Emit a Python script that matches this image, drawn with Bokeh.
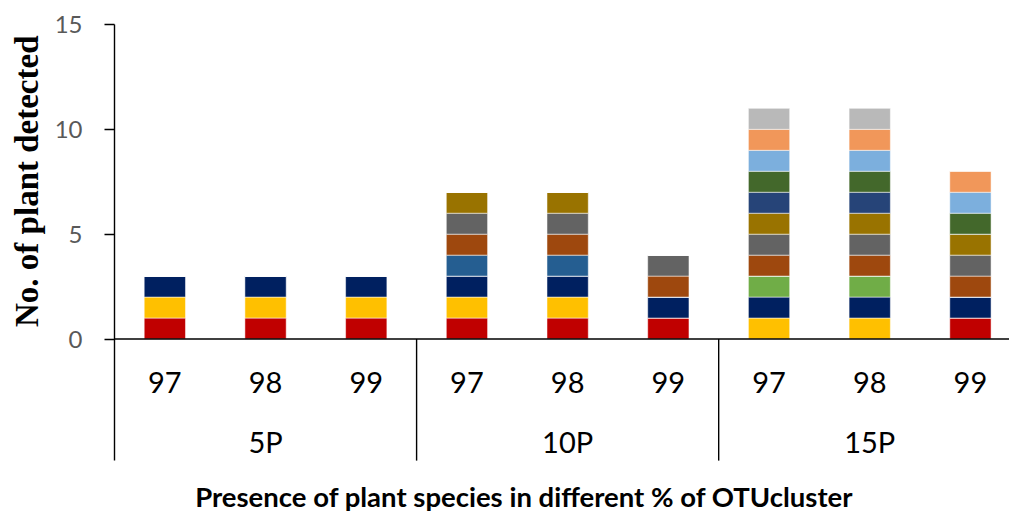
from bokeh.plotting import figure
from bokeh.models import Range1d, Title, ColumnDataSource
from bokeh.core.properties import value
from bokeh.embed import file_html
from bokeh.resources import INLINE

# Two-level categories: plant mix and OTU clustering threshold (%)
groups = ["5P", "10P", "15P"]
clusters = ["97", "98", "99"]

# Presence (1) / absence (0) of each plant species, per bar (5P 97..99, 10P 97..99, 15P 97..99)
sp01 = [1, 1, 1, 1, 1, 1, 0, 0, 1]
sp02 = [1, 1, 1, 1, 1, 0, 1, 1, 0]
sp03 = [1, 1, 1, 1, 1, 1, 1, 1, 1]
sp04 = [0, 0, 0, 0, 0, 0, 1, 1, 0]
sp05 = [0, 0, 0, 1, 1, 0, 0, 0, 0]
sp06 = [0, 0, 0, 1, 1, 1, 1, 1, 1]
sp07 = [0, 0, 0, 1, 1, 1, 1, 1, 1]
sp08 = [0, 0, 0, 1, 1, 0, 1, 1, 1]
sp09 = [0, 0, 0, 0, 0, 0, 1, 1, 0]
sp10 = [0, 0, 0, 0, 0, 0, 1, 1, 1]
sp11 = [0, 0, 0, 0, 0, 0, 1, 1, 1]
sp12 = [0, 0, 0, 0, 0, 0, 1, 1, 1]
sp13 = [0, 0, 0, 0, 0, 0, 1, 1, 0]

species = ["sp01", "sp02", "sp03", "sp04", "sp05", "sp06", "sp07",
           "sp08", "sp09", "sp10", "sp11", "sp12", "sp13"]
species_values = [sp01, sp02, sp03, sp04, sp05, sp06, sp07,
                  sp08, sp09, sp10, sp11, sp12, sp13]
colors = ["#C00000", "#FFC000", "#002060", "#70AD47", "#255E91", "#9E480E",
          "#636363", "#997300", "#264478", "#43682B", "#7CAFDD", "#F1975A",
          "#B9B9B9"]

y_ticks = [0, 5, 10, 15]

n_sub = len(clusters)
n_bars = len(groups) * n_sub
xpos = [i + 0.5 for i in range(n_bars)]
sub_labels = [c for g in groups for c in clusters]

data = {"x": xpos}
for name, vals in zip(species, species_values):
    data[name] = vals
source = ColumnDataSource(data)

# vertical layout of the category band below the baseline (data units)
sub_y = -2.08
group_y = -4.87
sep_bottom = -5.8
title_y = -7.53

p = figure(width=1009, height=514, output_backend="svg", toolbar_location=None,
           x_range=Range1d(0, 8.888), y_range=Range1d(-8.37, 15),
           x_axis_location=None, min_border_left=114, min_border_top=24,
           min_border_bottom=0, min_border_right=0)
p.outline_line_color = None
p.xgrid.visible = False
p.ygrid.visible = False
p.background_fill_color = "white"
p.border_fill_color = "white"

p.vbar_stack(species, x="x", width=0.41, source=source, color=colors,
             line_color="white", line_width=1, line_alpha=0.5)

# baseline and group separators
p.segment(x0=[0], y0=[0], x1=[n_bars + 0.5], y1=[0], line_color="black", line_width=1.4)
seps = [k * n_sub for k in range(1, len(groups))]
p.segment(x0=seps, y0=[0] * len(seps), x1=seps, y1=[sep_bottom] * len(seps),
          line_color="black", line_width=1.4)

# category labels
p.text(x=xpos, y=[sub_y] * n_bars, text=sub_labels, text_font=value("Lato"),
       text_font_size="29px", text_color="black", text_align="center",
       text_baseline="middle")
group_x = [k * n_sub + n_sub / 2 for k in range(len(groups))]
p.text(x=group_x, y=[group_y] * len(groups), text=groups, text_font=value("Lato"),
       text_font_size="29px", text_color="black", text_align="center",
       text_baseline="middle")
p.text(x=[4.07], y=[title_y], text=["Presence of plant species in different % of OTUcluster"],
       text_font=value("Lato"), text_font_size="27.5px", text_font_style="bold",
       text_color="black", text_align="center", text_baseline="middle")

ax = p.yaxis[0]
ax.ticker = y_ticks
ax.bounds = (sep_bottom, 15)
ax.axis_line_color = "black"
ax.axis_line_width = 1.4
ax.major_tick_line_color = "black"
ax.major_tick_line_width = 1.4
ax.major_tick_out = 10
ax.major_tick_in = 0
ax.minor_tick_line_color = None
ax.major_label_text_font = "Lato"
ax.major_label_text_font_size = "24px"
ax.major_label_text_color = "#595959"
ax.major_label_standoff = 22

# y-axis title, aligned to the top of the 0-15 scale
p.add_layout(Title(text="No. of plant detected", align="right", offset=11,
                   text_font="Liberation Serif", text_font_style="bold",
                   text_font_size="33px", text_color="black", standoff=13),
             "left")

open("out.html", "w").write(file_html(p, INLINE))
